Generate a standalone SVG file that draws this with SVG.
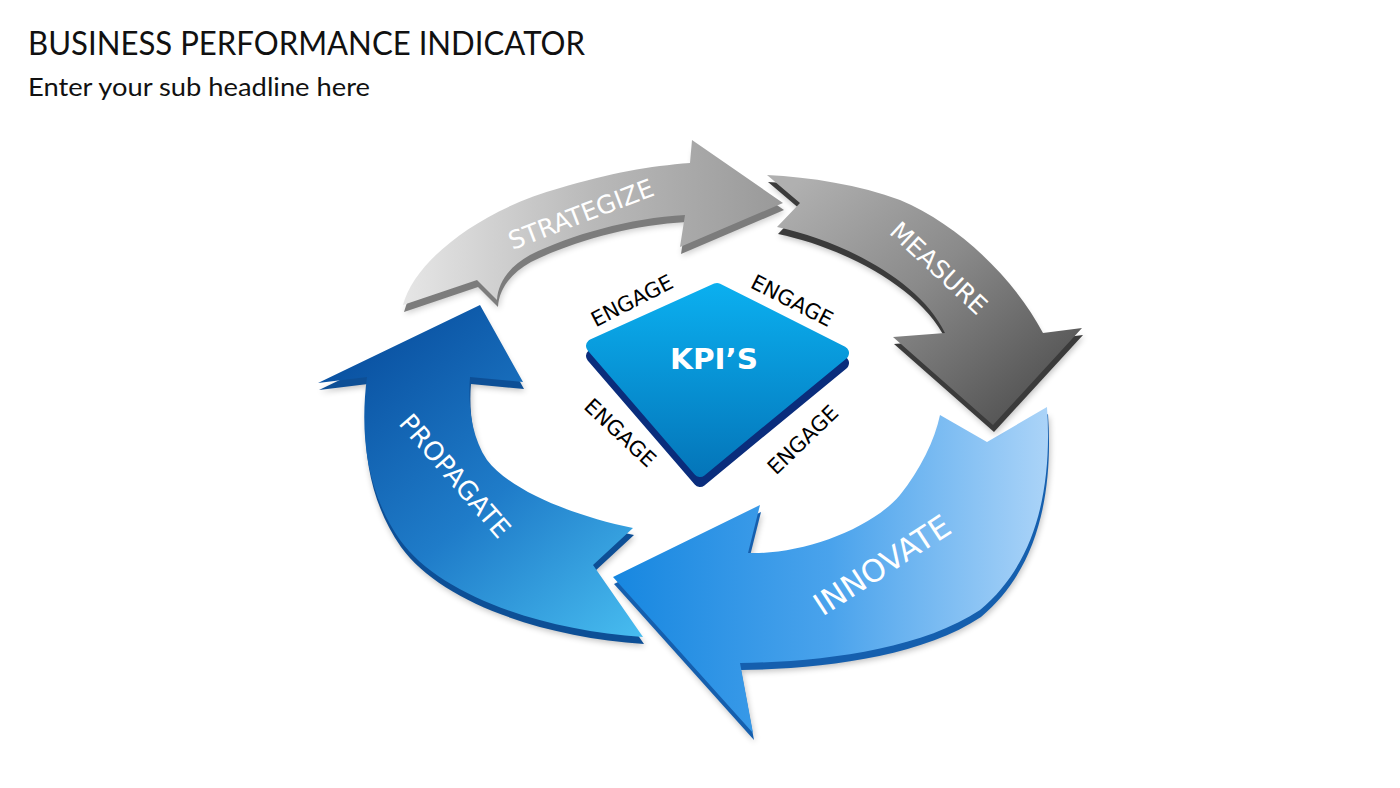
<svg xmlns="http://www.w3.org/2000/svg" width="1400" height="788" viewBox="0 0 1400 788">
<defs>
<style>
.title{font-family:Lato,"Open Sans","Liberation Sans",sans-serif;fill:#111}
.lbl{font-family:"DejaVu Sans","Liberation Sans",sans-serif;fill:#fff}
.eng{font-family:"DejaVu Sans","Liberation Sans",sans-serif;fill:#000;font-size:21px}
</style>
<linearGradient id="gStr" x1="403" y1="0" x2="783" y2="0" gradientUnits="userSpaceOnUse">
<stop offset="0" stop-color="#e6e6e6"/><stop offset="0.5" stop-color="#b9b9b9"/><stop offset="1" stop-color="#999"/>
</linearGradient>
<linearGradient id="gMea" x1="800" y1="180" x2="1000" y2="420" gradientUnits="userSpaceOnUse">
<stop offset="0" stop-color="#b0b0b0"/><stop offset="0.5" stop-color="#8a8a8a"/><stop offset="1" stop-color="#575757"/>
</linearGradient>
<linearGradient id="gInn" x1="613" y1="0" x2="1050" y2="0" gradientUnits="userSpaceOnUse">
<stop offset="0" stop-color="#1787e0"/><stop offset="0.5" stop-color="#4aa3ec"/><stop offset="1" stop-color="#acd4f8"/>
</linearGradient>
<linearGradient id="gPro" x1="380" y1="330" x2="640" y2="640" gradientUnits="userSpaceOnUse">
<stop offset="0" stop-color="#0a52a2"/><stop offset="0.5" stop-color="#1f7cc9"/><stop offset="1" stop-color="#48bdf0"/>
</linearGradient>
<linearGradient id="gKpi" x1="0" y1="282" x2="0" y2="480" gradientUnits="userSpaceOnUse">
<stop offset="0" stop-color="#0bb0f0"/><stop offset="1" stop-color="#0474b8"/>
</linearGradient>
<filter id="sh" x="-10%" y="-10%" width="120%" height="130%">
<feGaussianBlur stdDeviation="3"/>
</filter>
</defs>

<rect width="1400" height="788" fill="#fff"/>

<g id="header">
<text class="title" x="28" y="55" font-size="32" textLength="557" lengthAdjust="spacingAndGlyphs">BUSINESS PERFORMANCE INDICATOR</text>
<text class="title" x="28" y="96" font-size="25" textLength="342" lengthAdjust="spacingAndGlyphs">Enter your sub headline here</text>
</g>

<g id="propagate">
<path transform="translate(2,9)" filter="url(#sh)" fill="#000" opacity="0.25" d="M643,637 L593,565 L633,528 C570,515 510,490 487,460 C470,435 468,400 470,377 L523,382 L480,305 L318,383 L367,377 C360,430 365,490 400,540 C440,595 540,630 643,637 Z"/>
<path transform="translate(1,7)" fill="#0d4f96" d="M643,637 L593,565 L633,528 C570,515 510,490 487,460 C470,435 468,400 470,377 L523,382 L480,305 L318,383 L367,377 C360,430 365,490 400,540 C440,595 540,630 643,637 Z"/>
<path fill="url(#gPro)" d="M643,637 L593,565 L633,528 C570,515 510,490 487,460 C470,435 468,400 470,377 L523,382 L480,305 L318,383 L367,377 C360,430 365,490 400,540 C440,595 540,630 643,637 Z"/>
<text class="lbl" font-size="26" transform="translate(455,476) rotate(49)" text-anchor="middle" dy="9">PROPAGATE</text>
</g>

<g id="innovate">
<path transform="translate(2,9)" filter="url(#sh)" fill="#000" opacity="0.25" d="M940,415 L987,442 L1047,407 C1052,480 1040,560 980,610 C920,650 820,662 740,663 L753,733 L613,577 L760,505 L748,553 C800,555 870,530 900,495 C920,470 935,440 940,415 Z"/>
<path transform="translate(1,7)" fill="#155fae" d="M940,415 L987,442 L1047,407 C1052,480 1040,560 980,610 C920,650 820,662 740,663 L753,733 L613,577 L760,505 L748,553 C800,555 870,530 900,495 C920,470 935,440 940,415 Z"/>
<path fill="url(#gInn)" d="M940,415 L987,442 L1047,407 C1052,480 1040,560 980,610 C920,650 820,662 740,663 L753,733 L613,577 L760,505 L748,553 C800,555 870,530 900,495 C920,470 935,440 940,415 Z"/>
<text class="lbl" font-size="31" transform="translate(882,565) rotate(-33)" text-anchor="middle" dy="11">INNOVATE</text>
</g>

<g id="measure">
<path transform="translate(2,9)" filter="url(#sh)" fill="#000" opacity="0.25" d="M767,175 L800,203 L777,227 C840,240 920,280 945,333 L893,337 L993,425 L1082,328 L1043,333 C1015,280 960,225 900,200 C860,185 810,177 767,175 Z"/>
<path transform="translate(1,7)" fill="#3b3b3b" d="M767,175 L800,203 L777,227 C840,240 920,280 945,333 L893,337 L993,425 L1082,328 L1043,333 C1015,280 960,225 900,200 C860,185 810,177 767,175 Z"/>
<path fill="url(#gMea)" d="M767,175 L800,203 L777,227 C840,240 920,280 945,333 L893,337 L993,425 L1082,328 L1043,333 C1015,280 960,225 900,200 C860,185 810,177 767,175 Z"/>
<text class="lbl" font-size="25" transform="translate(939,268) rotate(43)" text-anchor="middle" dy="9">MEASURE</text>
</g>

<g id="strategize">
<path transform="translate(2,9)" filter="url(#sh)" fill="#000" opacity="0.2" d="M403,305 C415,260 480,210 560,188 C610,173 650,166 690,163 L692,140 L783,203 L680,247 L685,215 C630,218 570,235 530,255 C510,266 498,282 497,300 L477,280 Z"/>
<path transform="translate(1,7)" fill="#7c7c7c" d="M403,305 C415,260 480,210 560,188 C610,173 650,166 690,163 L692,140 L783,203 L680,247 L685,215 C630,218 570,235 530,255 C510,266 498,282 497,300 L477,280 Z"/>
<path fill="url(#gStr)" d="M403,305 C415,260 480,210 560,188 C610,173 650,166 690,163 L692,140 L783,203 L680,247 L685,215 C630,218 570,235 530,255 C510,266 498,282 497,300 L477,280 Z"/>
<text class="lbl" font-size="25" transform="translate(581,214) rotate(-21)" text-anchor="middle" dy="9">STRATEGIZE</text>
</g>

<g id="kpi">
<path transform="translate(0,10)" fill="#0a2d7c" stroke="#0a2d7c" stroke-width="14" stroke-linejoin="round" d="M717,290 L842,353 L700,470 L593,346 Z"/>
<path fill="url(#gKpi)" stroke="url(#gKpi)" stroke-width="14" stroke-linejoin="round" d="M717,290 L842,353 L700,470 L593,346 Z"/>
<text x="714" y="369" font-family="'DejaVu Sans','Liberation Sans',sans-serif" font-weight="bold" font-size="28" fill="#fff" text-anchor="middle" textLength="88" lengthAdjust="spacingAndGlyphs">KPI’S</text>
</g>

<g id="engage">
<text class="eng" transform="translate(632,301) rotate(-27)" text-anchor="middle" dy="7">ENGAGE</text>
<text class="eng" transform="translate(792,301) rotate(27)" text-anchor="middle" dy="7">ENGAGE</text>
<text class="eng" transform="translate(620,433) rotate(43)" text-anchor="middle" dy="7">ENGAGE</text>
<text class="eng" transform="translate(803,440) rotate(-44)" text-anchor="middle" dy="7">ENGAGE</text>
</g>
</svg>
